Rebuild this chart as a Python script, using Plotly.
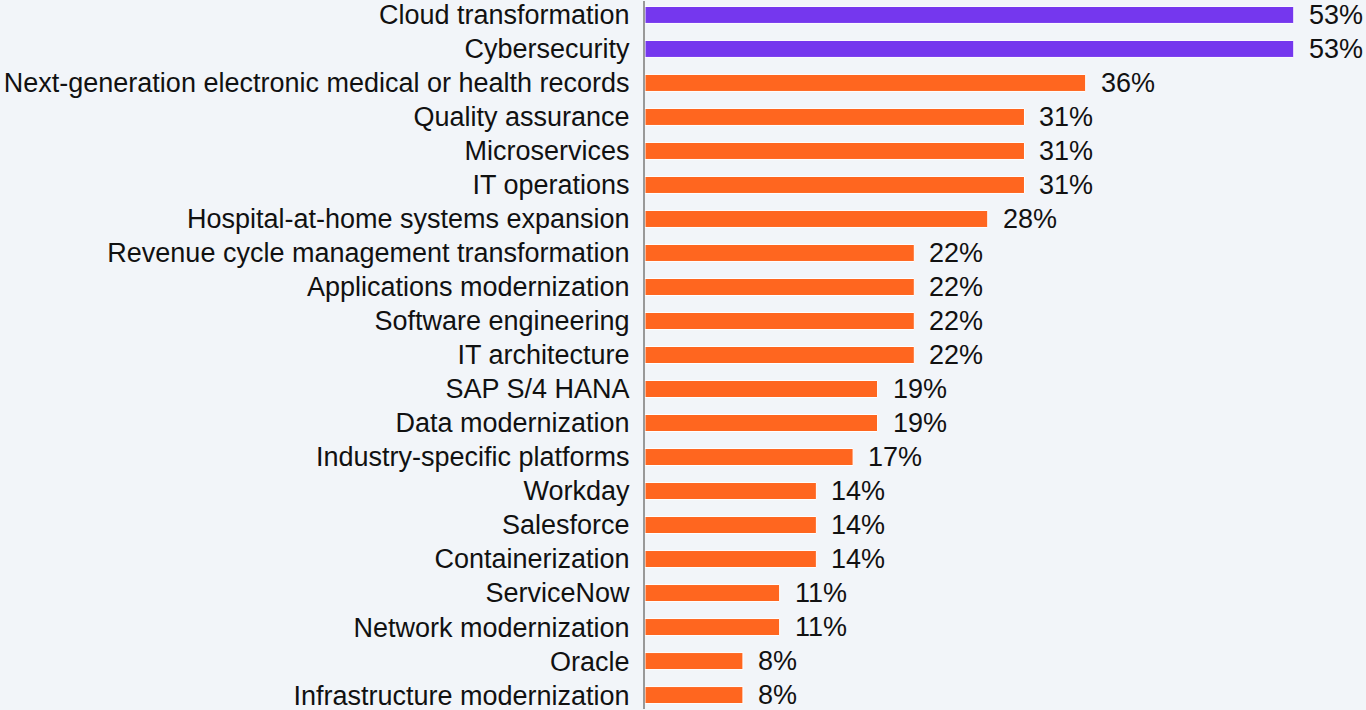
import plotly.graph_objects as go

categories = [
    "Cloud transformation", "Cybersecurity",
    "Next-generation electronic medical or health records",
    "Quality assurance", "Microservices", "IT operations",
    "Hospital-at-home systems expansion",
    "Revenue cycle management transformation",
    "Applications modernization", "Software engineering", "IT architecture",
    "SAP S/4 HANA", "Data modernization", "Industry-specific platforms",
    "Workday", "Salesforce", "Containerization", "ServiceNow",
    "Network modernization", "Oracle", "Infrastructure modernization",
]
values = [53, 53, 36, 31, 31, 31, 28, 22, 22, 22, 22, 19, 19, 17, 14, 14, 14, 11, 11, 8, 8]
highlight = [True, True] + [False] * 19

PURPLE = "#7537ee"
ORANGE = "#ff661f"
BG = "#f2f5f9"
FONT = "Liberation Sans, Arial, sans-serif"
FS = 27

colors = [PURPLE if h else ORANGE for h in highlight]

fig = go.Figure(go.Bar(
    x=values, y=categories, orientation="h",
    marker=dict(color=colors, line=dict(color="white", width=1)),
    hoverinfo="skip",
))

for c, v in zip(categories, values):
    fig.add_annotation(x=v, y=c, text=f"{v}%", showarrow=False,
                       xanchor="left", xshift=13,
                       font=dict(family=FONT, size=FS, color="#111"))

fig.update_layout(
    width=1366, height=710,
    margin=dict(l=645, r=0, t=0, b=0),
    paper_bgcolor=BG, plot_bgcolor=BG,
    bargap=0.5, showlegend=False,
    font=dict(family=FONT, size=FS, color="#111"),
)
fig.update_xaxes(range=[0, 58.9], visible=False)
fig.update_yaxes(
    categoryorder="array", categoryarray=categories,
    range=[20.41, -0.41], showgrid=False,
    showline=True, linecolor="#999999", linewidth=2,
    ticks="", ticklabelstandoff=8,
    tickfont=dict(family=FONT, size=FS, color="#111"),
)

fig.write_html(
    "out.html",
    config={"displayModeBar": False},
    post_script="document.body.style.margin='0';document.body.style.background='#f2f5f9';",
)
